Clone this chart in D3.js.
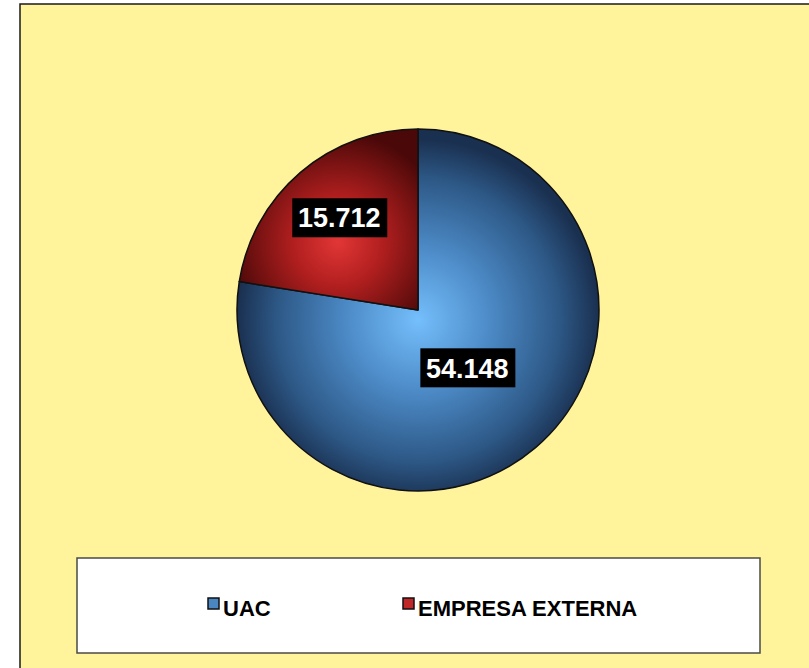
<!DOCTYPE html>
<html>
<head>
<meta charset="utf-8">
<script src="https://cdn.jsdelivr.net/npm/d3@7"></script>
<style>
  html, body { margin: 0; padding: 0; background: #fff; }
  svg { display: block; }
</style>
</head>
<body>
<script>
'use strict';

// Chart data
const categories = ["UAC", "EMPRESA EXTERNA"];
const values = [54.148, 15.712];
const valueLabels = ["54.148", "15.712"];

const width = 809, height = 668;
const cx = 418, cy = 310, radius = 181;

const svg = d3.select("body").append("svg")
  .attr("width", width)
  .attr("height", height);

const defs = svg.append("defs");

// Gradients are in the pie group's space (origin at the pie centre).
// Blue slice: light at the pie centre, dark at the rim
const gBlue = defs.append("radialGradient")
  .attr("id", "gradBlue")
  .attr("gradientUnits", "userSpaceOnUse")
  .attr("cx", 0).attr("cy", 10).attr("r", radius);
gBlue.append("stop").attr("offset", "0%").attr("stop-color", "#74bffc");
gBlue.append("stop").attr("offset", "40%").attr("stop-color", "#4c8ac6");
gBlue.append("stop").attr("offset", "78%").attr("stop-color", "#2d5886");
gBlue.append("stop").attr("offset", "100%").attr("stop-color", "#1a3050");

// Red slice: bright near its middle, dark at the edges
const gRed = defs.append("radialGradient")
  .attr("id", "gradRed")
  .attr("gradientUnits", "userSpaceOnUse")
  .attr("cx", -80).attr("cy", -68).attr("r", 110);
gRed.append("stop").attr("offset", "0%").attr("stop-color", "#e23636");
gRed.append("stop").attr("offset", "40%").attr("stop-color", "#b21f1f");
gRed.append("stop").attr("offset", "100%").attr("stop-color", "#4a0808");

const fills = ["url(#gradBlue)", "url(#gradRed)"];
const swatchColors = ["#4a86c2", "#c02828"];

// Background frame
svg.append("rect")
  .attr("x", 20).attr("y", 4)
  .attr("width", width + 10).attr("height", height + 10)
  .attr("fill", "#fff49c")
  .attr("stroke", "#1a1a1a")
  .attr("stroke-width", 1.5);

// Pie
const pie = d3.pie().sort(null).value(d => d);
const arcs = pie(values);
const arc = d3.arc().innerRadius(0).outerRadius(radius);

const g = svg.append("g").attr("transform", `translate(${cx},${cy})`);

g.selectAll("path.slice")
  .data(arcs)
  .enter()
  .append("path")
  .attr("class", "slice")
  .attr("d", arc)
  .attr("fill", (d, i) => fills[i])
  .attr("stroke", "#111")
  .attr("stroke-width", 1.5)
  .attr("stroke-linejoin", "round");

// Data labels (white on black box)
const labelRadius = [0.42, 0.67];
arcs.forEach((d, i) => {
  const a = (d.startAngle + d.endAngle) / 2;
  const r = radius * labelRadius[i];
  const x = Math.sin(a) * r, y = -Math.cos(a) * r;
  const lg = g.append("g").attr("transform", `translate(${x},${y})`);
  lg.append("rect")
    .attr("x", -47).attr("y", -19.5)
    .attr("width", 95).attr("height", 39)
    .attr("fill", "#000");
  lg.append("text")
    .attr("text-anchor", "middle")
    .attr("dy", "0.36em")
    .attr("font-family", "Liberation Sans, Arial, sans-serif")
    .attr("font-weight", "bold")
    .attr("font-size", 27)
    .attr("fill", "#fff")
    .text(valueLabels[i]);
});

// Legend
svg.append("rect")
  .attr("x", 77).attr("y", 558)
  .attr("width", 683).attr("height", 95)
  .attr("fill", "#fff")
  .attr("stroke", "#4a4a44")
  .attr("stroke-width", 1.5);

const legendX = [208, 403];
categories.forEach((c, i) => {
  svg.append("rect")
    .attr("x", legendX[i]).attr("y", 598)
    .attr("width", 11).attr("height", 11)
    .attr("fill", swatchColors[i])
    .attr("stroke", "#111")
    .attr("stroke-width", 1.5);
  svg.append("text")
    .attr("x", legendX[i] + 15).attr("y", 616)
    .attr("font-family", "Liberation Sans, Arial, sans-serif")
    .attr("font-weight", "bold")
    .attr("font-size", 22)
    .attr("fill", "#000")
    .text(c);
});
</script>
</body>
</html>
